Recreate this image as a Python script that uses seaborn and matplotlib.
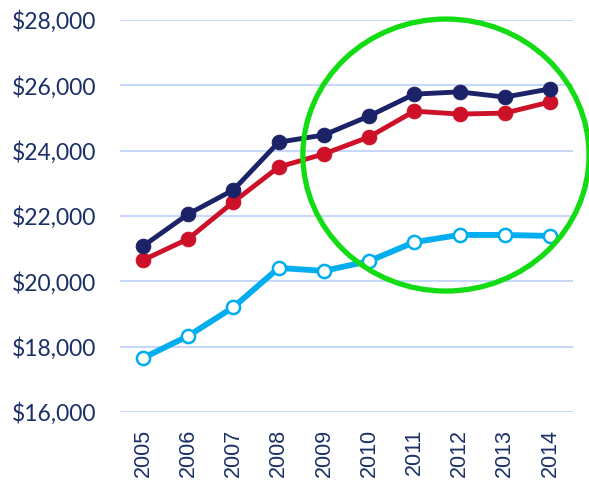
import pandas as pd
import matplotlib.pyplot as plt
import seaborn as sns
from matplotlib.patches import Ellipse
from matplotlib.ticker import FuncFormatter

years = [2005, 2006, 2007, 2008, 2009, 2010, 2011, 2012, 2013, 2014]
navy_vals = [21080, 22060, 22800, 24260, 24480, 25060, 25730, 25800, 25640, 25890]
red_vals = [20650, 21300, 22430, 23500, 23900, 24420, 25210, 25120, 25150, 25490]
blue_vals = [17650, 18330, 19210, 20410, 20320, 20620, 21200, 21420, 21420, 21390]

NAVY = '#1b2267'
RED = '#cc1128'
BLUE = '#00aeef'
TEXT = '#1a2f66'

sns.set_theme(style="white")
plt.rcParams['font.family'] = ['Lato', 'DejaVu Sans']

fig = plt.figure(figsize=(5.89, 4.82), dpi=100)
ax = fig.add_axes([120 / 589, 1 - 412 / 482, 453 / 589, 392 / 482])

df_navy = pd.DataFrame({'year': years, 'value': navy_vals})
df_red = pd.DataFrame({'year': years, 'value': red_vals})
df_blue = pd.DataFrame({'year': years, 'value': blue_vals})

sns.lineplot(data=df_blue, x='year', y='value', ax=ax, color=BLUE, linewidth=4.2,
             marker='o', markersize=9.5, markerfacecolor='white',
             markeredgecolor=BLUE, markeredgewidth=1.8, zorder=3)
sns.lineplot(data=df_red, x='year', y='value', ax=ax, color=RED, linewidth=3.5,
             marker='o', markersize=10.5, markerfacecolor=RED,
             markeredgecolor=RED, zorder=4)
sns.lineplot(data=df_navy, x='year', y='value', ax=ax, color=NAVY, linewidth=3.5,
             marker='o', markersize=10.5, markerfacecolor=NAVY,
             markeredgecolor=NAVY, zorder=5)

# highlight circle
ell = Ellipse((2011.70, 23866), width=6.33, height=8326, fill=False,
              edgecolor='#14dc14', linewidth=3.8, clip_on=False, zorder=6)
ax.add_patch(ell)

ax.set_xlim(2004.49, 2014.51)
ax.set_ylim(16000, 28000)
ax.set_yticks(range(16000, 28001, 2000))
ax.yaxis.set_major_formatter(FuncFormatter(lambda v, p: f'${v:,.0f}'))
ax.set_xticks(years)
ax.set_xticklabels([str(y) for y in years], rotation=90,
                   family=['Liberation Sans', 'DejaVu Sans'])
ax.tick_params(axis='y', labelsize=16.5, colors=TEXT, length=0, pad=17)
ax.tick_params(axis='x', labelsize=15.5, colors=TEXT, length=0, pad=12)
ax.set_xlabel('')
ax.set_ylabel('')
ax.grid(axis='y', color='#c8d8fa', linewidth=1.5)
ax.grid(axis='x', visible=False)
sns.despine(ax=ax, left=True, bottom=True)

fig.savefig('out.png', dpi=100)
